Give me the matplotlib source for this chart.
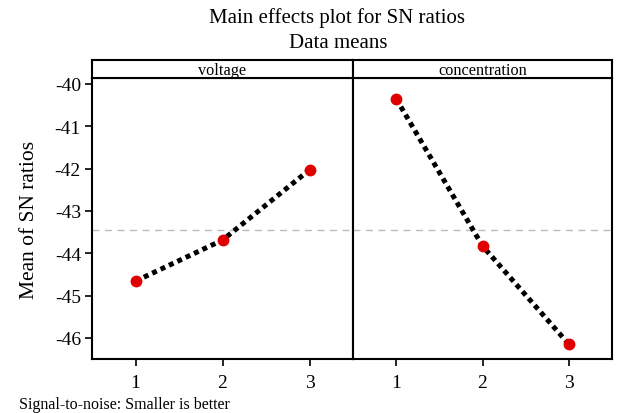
import matplotlib
matplotlib.use("Agg")
import matplotlib.pyplot as plt
import numpy as np

plt.rcParams['font.family'] = ['Liberation Serif', 'DejaVu Serif']

levels = [1, 2, 3]
factors = ["voltage", "concentration"]
voltage_sn = [-44.66, -43.69, -42.03]
concentration_sn = [-40.35, -43.83, -46.15]
series = [voltage_sn, concentration_sn]
yticks = [-40, -41, -42, -43, -44, -45, -46]

grand_mean = np.mean(voltage_sn + concentration_sn)

fig = plt.figure(figsize=(6.17, 4.14), dpi=100)
fig.patch.set_facecolor('white')

W, H = 617.0, 414.0
panels_x = [(92, 353), (353, 612)]
top_strip, top_plot, bottom_plot = 61, 79, 360

for i, (name, vals) in enumerate(zip(factors, series)):
    x0, x1 = panels_x[i]
    ax = fig.add_axes([x0 / W, 1 - bottom_plot / H, (x1 - x0) / W, (bottom_plot - top_plot) / H])
    ax.axhline(grand_mean, color='#bbbbbb', lw=1, ls=(0, (5, 4)), zorder=1)
    ax.plot(levels, vals, color='black', lw=3.6, ls=(0, (1, 0.85)),
            dash_capstyle='butt', zorder=2)
    ax.plot(levels, vals, 'o', color='#e00000', ms=7.5, mec='#e00000', zorder=3)
    ax.set_xlim(0.5, 3.5)
    ax.set_ylim(-46.5, -39.86)
    ax.set_xticks(levels)
    ax.set_xticklabels([str(l) for l in levels], fontsize=14)
    ax.tick_params(axis='x', direction='out', length=5, width=1.2, pad=6)
    if i == 0:
        ax.set_yticks(yticks)
        ax.set_yticklabels([str(t) for t in yticks], fontsize=14)
        ax.tick_params(axis='y', direction='out', length=5, width=1.2, pad=3)
        ax.set_ylabel("Mean of SN ratios", fontsize=15.5, labelpad=11)
    else:
        ax.set_yticks([])
    for s in ax.spines.values():
        s.set_linewidth(1.5)
        s.set_color('black')

    sax = fig.add_axes([x0 / W, 1 - top_plot / H, (x1 - x0) / W, (top_plot - top_strip) / H])
    sax.set_xticks([])
    sax.set_yticks([])
    for s in sax.spines.values():
        s.set_linewidth(1.5)
    sax.text(0.5, 0.45, name, ha='center', va='center', fontsize=11.7, transform=sax.transAxes)

fig.text(337 / W, 1 - 18 / H, "Main effects plot for SN ratios", ha='center', va='center', fontsize=15)
fig.text(338 / W, 1 - 43 / H, "Data means", ha='center', va='center', fontsize=15)
fig.text(19 / W, 1 - 405 / H, "Signal-to-noise: Smaller is better", ha='left', va='center', fontsize=11.5)

fig.savefig("out.png", dpi=100, facecolor='white')
